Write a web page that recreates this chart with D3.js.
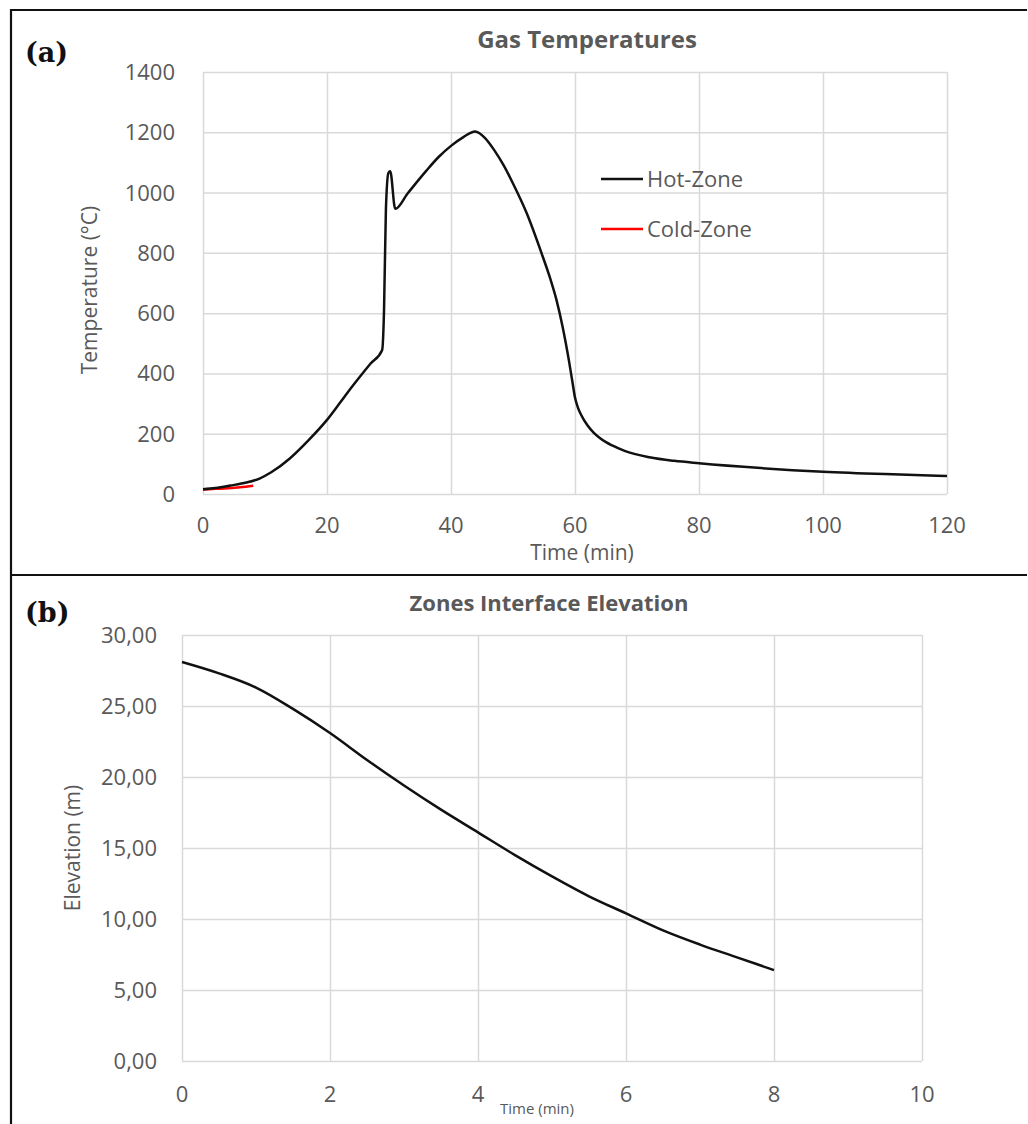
<!DOCTYPE html>
<html>
<head>
<meta charset="utf-8">
<script src="https://cdn.jsdelivr.net/npm/d3@7"></script>
<style>
  body { margin: 0; background: #fff; }
  svg text { font-family: "Open Sans", "Noto Sans", sans-serif; fill: #595959; }
  .grid line { stroke: #d9d9d9; stroke-width: 1.5; }
  .grid path { display: none; }
</style>
</head>
<body>
<svg width="1028" height="1124"></svg>
<script>
// (a) gas temperatures, time in minutes
var hotTime = [0, 2, 4.4, 7, 9.2, 11, 14, 17, 20, 22, 24, 25.3, 27, 28.9, 29.2, 29.5, 29.9, 30.2, 31.0, 33, 36, 38, 40, 42, 43.9, 45.5, 47, 48.5, 50, 52.2, 54.6, 56, 57, 58, 59, 59.6, 60, 60.5, 61, 62, 63, 64, 65, 66, 68, 72, 76, 80, 90, 100, 110, 120];
var hotTemp = [16, 20, 28, 38, 52, 72, 118, 178, 246, 300, 355, 389, 432, 478, 611, 943, 1065, 1071, 946, 997, 1072, 1118, 1155, 1184, 1203, 1181, 1140, 1090, 1030, 932, 799, 715, 645, 555, 445, 370, 320, 285, 262, 228, 204, 186, 172, 161, 143, 122, 110, 102, 86, 74, 66, 60];
var coldTime = [0, 2, 4, 6, 8.1];
var coldTemp = [15, 17, 19, 22, 27];
var tempTicks = [0, 200, 400, 600, 800, 1000, 1200, 1400];
var timeTicksA = [0, 20, 40, 60, 80, 100, 120];

// (b) zones interface elevation
var elevTime = [0, 0.5, 1, 1.5, 2, 2.5, 3, 3.5, 4, 4.5, 5, 5.5, 6, 6.5, 7, 7.5, 8];
var elevation = [28.1, 27.3, 26.3, 24.8, 23.1, 21.2, 19.4, 17.7, 16.1, 14.5, 13.0, 11.6, 10.4, 9.2, 8.2, 7.3, 6.4];
var elevTicks = [0, 5, 10, 15, 20, 25, 30];
var timeTicksB = [0, 2, 4, 6, 8, 10];

var svg = d3.select("svg");

// panel frames
svg.append("path")
    .attr("d", "M1027,10 H11 V1124 M11,575 H1027")
    .attr("fill", "none")
    .attr("stroke", "#111")
    .attr("stroke-width", 2.2);

function zip(xs, ys) {
  return xs.map(function(x, i) { return [x, ys[i]]; });
}

function drawPanel(o) {
  var x = d3.scaleLinear().domain(o.xDomain).range(o.xRange);
  var y = d3.scaleLinear().domain(o.yDomain).range(o.yRange);
  var g = svg.append("g");

  g.append("g")
      .attr("class", "grid")
      .attr("transform", "translate(0," + o.yRange[0] + ")")
      .call(d3.axisBottom(x).tickValues(o.xTicks).tickSize(o.yRange[1] - o.yRange[0]).tickFormat(""));
  g.append("g")
      .attr("class", "grid")
      .attr("transform", "translate(" + o.xRange[0] + ",0)")
      .call(d3.axisLeft(y).tickValues(o.yTicks).tickSize(o.xRange[0] - o.xRange[1]).tickFormat(""));

  g.selectAll(".xl").data(o.xTicks).enter().append("text")
      .attr("x", function(d) { return x(d); })
      .attr("y", o.yRange[0] + o.xLabelDy)
      .attr("text-anchor", "middle")
      .style("font-size", "22px")
      .text(o.xFormat);
  g.selectAll(".yl").data(o.yTicks).enter().append("text")
      .attr("x", o.xRange[0] - o.yLabelDx)
      .attr("y", function(d) { return y(d) + 8; })
      .attr("text-anchor", "end")
      .style("font-size", "22px")
      .text(o.yFormat);

  var line = d3.line()
      .x(function(d) { return x(d[0]); })
      .y(function(d) { return y(d[1]); });
  o.series.forEach(function(s) {
    g.append("path")
        .datum(s.data)
        .attr("fill", "none")
        .attr("stroke", s.color)
        .attr("stroke-width", 2.5)
        .attr("stroke-linejoin", "round")
        .attr("d", line.curve(s.curve || d3.curveLinear));
  });
  return { x: x, y: y, g: g };
}

var a = drawPanel({
  xDomain: [0, 120], xRange: [203, 947],
  yDomain: [0, 1400], yRange: [494, 72],
  xTicks: timeTicksA, yTicks: tempTicks,
  xFormat: function(d) { return d; }, yFormat: function(d) { return d; },
  xLabelDy: 39, yLabelDx: 28,
  series: [
    { data: zip(coldTime, coldTemp), color: "#ff0000", curve: d3.curveMonotoneX },
    { data: zip(hotTime, hotTemp), color: "#111111", curve: d3.curveMonotoneX }
  ]
});

var b = drawPanel({
  xDomain: [0, 10], xRange: [182, 922],
  yDomain: [0, 30], yRange: [1061, 635],
  xTicks: timeTicksB, yTicks: elevTicks,
  xFormat: function(d) { return d; },
  yFormat: function(d) { return d.toFixed(2).replace(".", ","); },
  xLabelDy: 41, yLabelDx: 25,
  series: [
    { data: zip(elevTime, elevation), color: "#111111", curve: d3.curveMonotoneX }
  ]
});

// legend (a)
var legend = [{ name: "Hot-Zone", color: "#111111" }, { name: "Cold-Zone", color: "#ff0000" }];
legend.forEach(function(d, i) {
  var ly = 179 + i * 50;
  svg.append("line").attr("x1", 601).attr("x2", 643).attr("y1", ly).attr("y2", ly)
      .attr("stroke", d.color).attr("stroke-width", 2.5);
  svg.append("text").attr("x", 647).attr("y", ly + 8)
      .style("font-size", "22px").text(d.name);
});

// titles
svg.append("text").attr("x", 587).attr("y", 48).attr("text-anchor", "middle")
    .style("font-size", "24px").style("font-weight", "bold").text("Gas Temperatures");
svg.append("text").attr("x", 549).attr("y", 611).attr("text-anchor", "middle")
    .style("font-size", "22px").style("font-weight", "bold").text("Zones Interface Elevation");

// axis titles
svg.append("text").attr("x", 582).attr("y", 560).attr("text-anchor", "middle")
    .style("font-size", "21px").text("Time (min)");
svg.append("text").attr("x", 537).attr("y", 1114).attr("text-anchor", "middle")
    .style("font-size", "15px").text("Time (min)");
svg.append("text").attr("transform", "translate(97,290) rotate(-90)").attr("text-anchor", "middle")
    .style("font-size", "21px").text("Temperature (°C)");
svg.append("text").attr("transform", "translate(80,848) rotate(-90)").attr("text-anchor", "middle")
    .style("font-size", "21px").text("Elevation (m)");

// panel letters
svg.append("text").attr("x", 25).attr("y", 62)
    .style("font-family", "'DejaVu Serif', 'Liberation Serif', serif").style("font-size", "27px")
    .style("font-weight", "bold").style("fill", "#111").text("(a)");
svg.append("text").attr("x", 25).attr("y", 622)
    .style("font-family", "'DejaVu Serif', 'Liberation Serif', serif").style("font-size", "27px")
    .style("font-weight", "bold").style("fill", "#111").text("(b)");
</script>
</body>
</html>
